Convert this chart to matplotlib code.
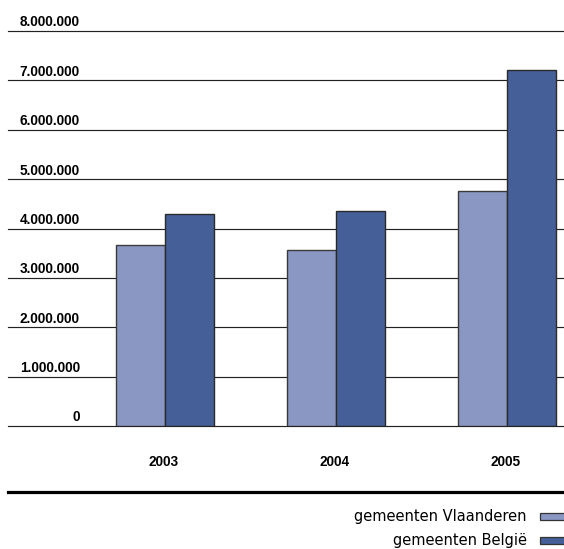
import matplotlib.pyplot as plt
import matplotlib.patches as mpatches
import numpy as np

years = ['2003', '2004', '2005']
vlaanderen = [3670000, 3560000, 4750000]
belgie = [4290000, 4350000, 7210000]
ticks = [0, 1000000, 2000000, 3000000, 4000000, 5000000, 6000000, 7000000, 8000000]
tick_labels = ['0', '1.000.000', '2.000.000', '3.000.000', '4.000.000',
               '5.000.000', '6.000.000', '7.000.000', '8.000.000']
series_names = ['gemeenten Vlaanderen', 'gemeenten België']
colors = ['#8a97c3', '#455f99']

plt.rcParams['font.family'] = ['Liberation Sans', 'DejaVu Sans']

W, H = 564, 549
fig = plt.figure(figsize=(W / 100, H / 100), dpi=100)
ax = fig.add_axes([8 / W, (H - 426) / H, (W - 8) / W, (426 - 31) / H])

x = np.arange(len(years))
bw = 0.287
ax.bar(x - bw / 2, vlaanderen, bw, color=colors[0], edgecolor='#3a3a3a', linewidth=1, zorder=3)
ax.bar(x + bw / 2, belgie, bw, color=colors[1], edgecolor='#2a2a2a', linewidth=1, zorder=3)

ax.set_xlim(-0.918, 2.333)
ax.set_ylim(0, 8000000)

for t in ticks:
    ax.axhline(t, color='#222222', linewidth=0.85, zorder=1, clip_on=False)
for t, lab in zip(ticks, tick_labels):
    ax.annotate(lab, xy=((80 - 8) / (W - 8), t), xycoords=('axes fraction', 'data'),
                xytext=(0, 3.3), textcoords='offset points',
                ha='right', va='baseline', fontsize=9.8, fontweight='bold')

ax.set_yticks([])
ax.set_xticks(x - 0.01)
ax.set_xticklabels(years, fontsize=9.8, fontweight='bold')
ax.tick_params(axis='x', length=0, pad=21)
for s in ax.spines.values():
    s.set_visible(False)

# thick separator line
fig.add_artist(plt.Line2D([8 / W, 1], [(H - 491.5) / H] * 2, color='black',
                          linewidth=2.3, transform=fig.transFigure))

# legend
for i, (name, c) in enumerate(zip(series_names, colors)):
    yc = 516 + i * 24.5
    fig.text(527 / W, (H - yc) / H, name, ha='right', va='center',
             fontsize=10.5, family='DejaVu Sans')
    fig.add_artist(mpatches.Rectangle((539.5 / W, (H - yc - 3.5) / H), 30 / W, 7 / H,
                                      facecolor=c, edgecolor='#333333', linewidth=0.9,
                                      transform=fig.transFigure))

fig.savefig('out.png', dpi=100)
